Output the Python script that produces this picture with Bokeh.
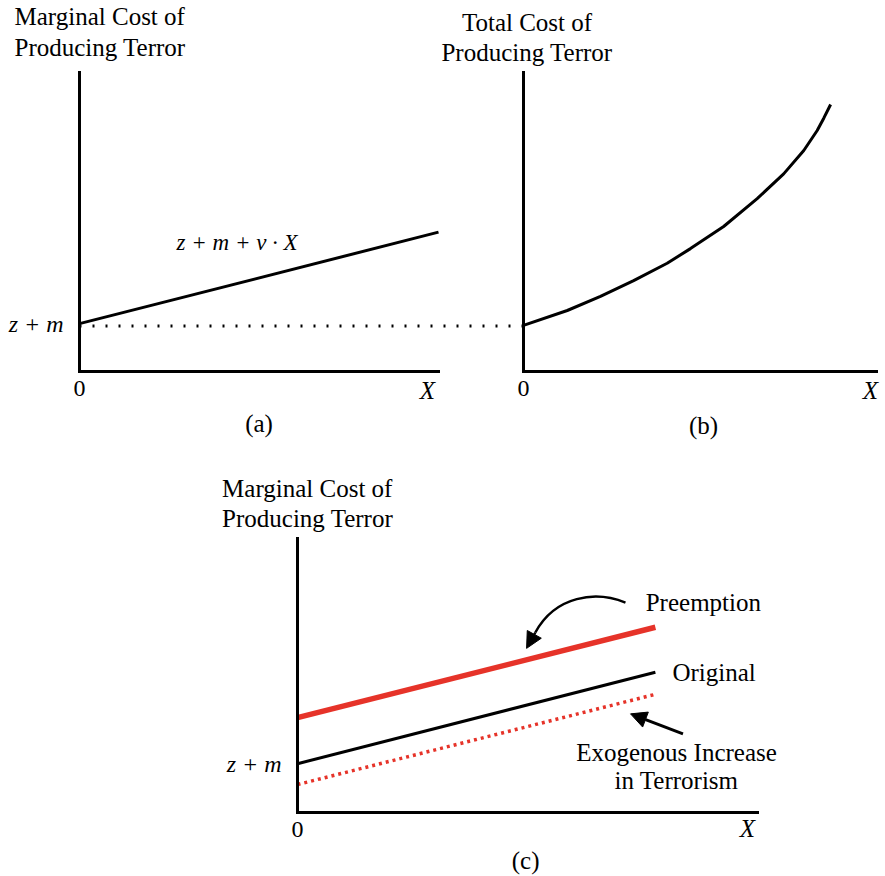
from bokeh.plotting import figure
from bokeh.models import (Range1d, LinearAxis, FixedTicker, Label, Arrow, NormalHead)
from bokeh.embed import file_html
from bokeh.resources import INLINE

# ---------------- data ----------------
# Panel (a): marginal cost  z + m + v*X
mc_x = [0, 10]
mc_y = [1.6, 4.66]
zm_level = 1.52          # dotted z+m reference level carried to panel (b)

# Panel (b): total cost curve
tc_x = [0, 1.24, 2.18, 3.12, 4.07, 4.73, 5.67, 6.62, 7.37, 7.94, 8.32, 8.51, 8.7]
tc_y = [1.54, 2.04, 2.51, 3.04, 3.62, 4.11, 4.85, 5.78, 6.61, 7.39, 8.06, 8.48, 8.93]

# Panel (c): three marginal cost lines
c_x = [0, 7.78]
pre_y = [3.46, 6.76]      # Preemption (red, thick)
orig_y = [1.78, 5.12]     # Original (black)
exo_x = [0, 7.82]
exo_y = [1.02, 4.33]      # Exogenous increase (red dotted)

# Panel (c) arrows: curved (bezier) + straight
curve_arrow = dict(x0=7.13, y0=7.66, cx0=6.48, cy0=8.10, cx1=5.61, cy1=7.92, x1=5.17, y1=6.57)
curve_tip = (4.98, 5.99)
straight_arrow = dict(x_start=8.38, y_start=2.87, x_end=7.24, y_end=3.60)

tick_zero = "0"
tick_zm = "z + m"
eq_text = "z + m + v · X"

# ---------------- layout (page pixels) ----------------
W, H = 885, 876
FX0, FX1 = 0, W        # frame left/right on page
FY_BOT, FY_TOP = H, 0
A = dict(ox=79, xe=438, oy=371, ye=72)
B = dict(ox=523, xe=876, oy=371, ye=72)
C = dict(ox=297, xe=757, oy=812, ye=538)
SPAN = 10.0


def xr(P):
    s = (P["xe"] - P["ox"]) / SPAN
    return Range1d(start=(FX0 - P["ox"]) / s, end=(FX1 - P["ox"]) / s)


def yr(P):
    s = (P["ye"] - P["oy"]) / SPAN
    return Range1d(start=(FY_BOT - P["oy"]) / s, end=(FY_TOP - P["oy"]) / s)


FONT = "Liberation Serif"
FS = "25px"
TICK_FS = "24px"
RED = "#e63329"

p = figure(width=W, height=H, x_range=xr(A), y_range=yr(A),
           x_axis_type=None, y_axis_type=None, toolbar_location=None,
           output_backend="svg", min_border=0)
p.title.visible = False
p.outline_line_color = None
p.background_fill_color = "white"
p.border_fill_color = "white"
p.extra_x_ranges = {"xb": xr(B), "xc": xr(C)}
p.extra_y_ranges = {"yc": yr(C)}


def style_axis(ax, italic=False, standoff=6):
    ax.axis_line_width = 3
    ax.axis_line_color = "black"
    ax.axis_line_cap = "square"
    ax.major_tick_line_color = None
    ax.minor_tick_line_color = None
    ax.major_tick_out = 0
    ax.major_tick_in = 0
    ax.minor_tick_out = 0
    ax.minor_tick_in = 0
    ax.major_label_text_font = FONT
    ax.major_label_text_font_size = TICK_FS
    ax.major_label_text_color = "black"
    ax.major_label_text_font_style = "italic" if italic else "normal"
    ax.major_label_standoff = standoff


def add_axes(xname, yname, ytick):
    kw = {}
    if xname:
        kw["x_range_name"] = xname
    if yname:
        kw["y_range_name"] = yname
    xa = LinearAxis(fixed_location=0, bounds=(0, SPAN),
                    ticker=FixedTicker(ticks=[0]),
                    major_label_overrides={0: tick_zero}, **kw)
    style_axis(xa, standoff=9)
    p.add_layout(xa, "below")
    if ytick is None:
        ya = LinearAxis(fixed_location=0, bounds=(0, SPAN),
                        ticker=FixedTicker(ticks=[]), **kw)
    else:
        ya = LinearAxis(fixed_location=0, bounds=(0, SPAN),
                        ticker=FixedTicker(ticks=[ytick]),
                        major_label_overrides={ytick: tick_zm}, **kw)
    style_axis(ya, italic=True, standoff=16)
    p.add_layout(ya, "left")


add_axes(None, None, mc_y[0])
add_axes("xb", None, None)
add_axes("xc", "yc", orig_y[0])

# ---- panel (a)
p.line(mc_x, mc_y, line_color="black", line_width=3)
b_origin_in_a = (B["ox"] - A["ox"]) / ((A["xe"] - A["ox"]) / SPAN)
p.line([0, b_origin_in_a], [zm_level, zm_level], line_color="black",
       line_width=3, line_dash="2 11")

# ---- panel (b)
p.line(tc_x, tc_y, line_color="black", line_width=3, line_join="round",
       x_range_name="xb")

# ---- panel (c)
p.line(c_x, pre_y, line_color=RED, line_width=5.5, x_range_name="xc", y_range_name="yc")
p.line(c_x, orig_y, line_color="black", line_width=3, x_range_name="xc", y_range_name="yc")
p.line(exo_x, exo_y, line_color=RED, line_width=3.5, line_dash="3 4",
       x_range_name="xc", y_range_name="yc")

p.bezier(x0=[curve_arrow["x0"]], y0=[curve_arrow["y0"]],
         x1=[curve_arrow["x1"]], y1=[curve_arrow["y1"]],
         cx0=[curve_arrow["cx0"]], cy0=[curve_arrow["cy0"]],
         cx1=[curve_arrow["cx1"]], cy1=[curve_arrow["cy1"]],
         line_color="black", line_width=2.5, x_range_name="xc", y_range_name="yc")
p.add_layout(Arrow(end=NormalHead(size=16, line_color="black", fill_color="black", line_width=1),
                   x_start=curve_arrow["x1"], y_start=curve_arrow["y1"],
                   x_end=curve_tip[0], y_end=curve_tip[1],
                   line_color="black", line_width=2.5,
                   x_range_name="xc", y_range_name="yc"))
p.add_layout(Arrow(end=NormalHead(size=16, line_color="black", fill_color="black", line_width=1),
                   line_color="black", line_width=3,
                   x_range_name="xc", y_range_name="yc", **straight_arrow))

# ---------------- text labels ----------------
def lab(text, x, y, align="left", italic=False, xname="default", yname="default", size=FS):
    p.add_layout(Label(x=x, y=y, text=text, text_align=align, text_baseline="middle",
                       text_font=FONT, text_font_size=size, text_color="black",
                       text_font_style="italic" if italic else "normal",
                       x_range_name=xname, y_range_name=yname))

# (a)
lab("Marginal Cost of", -1.81, 11.87)
lab("Producing Terror", -1.81, 10.85)
lab(eq_text, 4.39, 4.32, align="center", italic=True, size="23px")
lab("X", 9.69, -0.64, align="center", italic=True)
lab("(a)", 5.0, -1.74, align="center")
# (b)
lab("Total Cost of", 0.1, 11.68, align="center", xname="xb")
lab("Producing Terror", 0.1, 10.68, align="center", xname="xb")
lab("X", 9.83, -0.64, align="center", italic=True, xname="xb")
lab("(b)", 5.1, -1.81, align="center", xname="xb")
# (c)
lab("Marginal Cost of", -1.64, 11.82, xname="xc", yname="yc")
lab("Producing Terror", -1.64, 10.73, xname="xc", yname="yc")
lab("X", 9.78, -0.58, align="center", italic=True, xname="xc", yname="yc")
lab("(c)", 4.96, -1.75, align="center", xname="xc", yname="yc")
lab("Preemption", 7.57, 7.67, xname="xc", yname="yc")
lab("Original", 8.15, 5.12, xname="xc", yname="yc")
lab("Exogenous Increase", 8.24, 2.2, align="center", xname="xc", yname="yc")
lab("in Terrorism", 8.24, 1.17, align="center", xname="xc", yname="yc")

open("out.html", "w").write(file_html(p, INLINE, "Cost of producing terror"))
